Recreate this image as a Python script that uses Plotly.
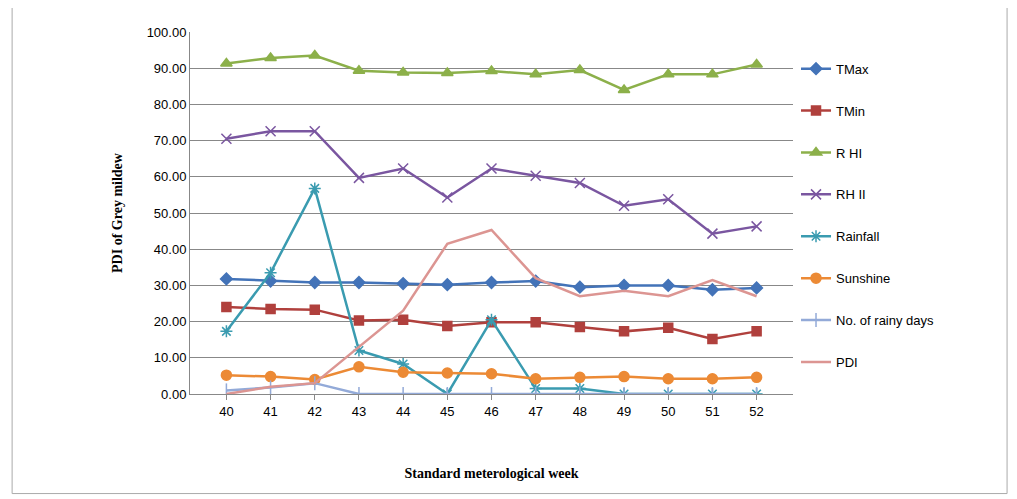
import plotly.graph_objects as go

weeks = ["40", "41", "42", "43", "44", "45", "46", "47", "48", "49", "50", "51", "52"]
tmax = [31.8, 31.2, 30.8, 30.8, 30.5, 30.2, 30.8, 31.2, 29.5, 30.0, 30.0, 28.8, 29.3]
tmin = [24.0, 23.5, 23.3, 20.3, 20.5, 18.8, 19.8, 19.8, 18.5, 17.3, 18.3, 15.2, 17.3]
rh1 = [91.3, 92.8, 93.5, 89.3, 88.8, 88.7, 89.2, 88.3, 89.5, 84.0, 88.3, 88.3, 91.0]
rh2 = [70.5, 72.6, 72.6, 59.7, 62.3, 54.3, 62.3, 60.3, 58.3, 52.0, 53.8, 44.3, 46.3]
rain = [17.3, 33.5, 56.8, 12.0, 8.3, 0.0, 20.5, 1.5, 1.5, 0.0, 0.0, 0.0, 0.0]
sun = [5.2, 4.8, 4.0, 7.5, 6.0, 5.8, 5.6, 4.2, 4.6, 4.8, 4.2, 4.2, 4.6]
rainy_days = [1.0, 1.8, 3.0, 0.0, 0.0, 0.0, 0.0, 0.0, 0.0, 0.0, 0.0, 0.0, 0.0]
pdi = [0.0, 2.0, 3.0, 13.0, 23.0, 41.5, 45.3, 32.0, 27.0, 28.5, 27.0, 31.5, 27.0]

series = [
    ("TMax", tmax, "#4373b8", "diamond", 9),
    ("TMin", tmin, "#b0403d", "square", 9),
    ("R HI", rh1, "#8cb04a", "triangle-up", 10),
    ("RH II", rh2, "#7a56a0", "x-thin-open", 10),
    ("Rainfall", rain, "#3a9bb0", "asterisk-open", 10),
    ("Sunshine", sun, "#ec8a35", "circle", 10),
    ("No. of rainy days", rainy_days, "#93aad8", "line-ns-open", 10),
    ("PDI", pdi, "#dc9592", None, 0),
]

fig = go.Figure()
for name, vals, col, sym, sz in series:
    if sym:
        fig.add_trace(go.Scatter(x=weeks, y=vals, name=name, mode="lines+markers",
                                 legendgroup=name,
                                 line=dict(color=col, width=2.5),
                                 marker=dict(symbol=sym, size=sz, color=col,
                                             line=dict(color=col, width=1.5))))
    else:
        fig.add_trace(go.Scatter(x=weeks, y=vals, name=name, mode="lines",
                                 legendgroup=name,
                                 line=dict(color=col, width=2.5)))

fig.update_layout(
    width=1017, height=499,
    paper_bgcolor="white", plot_bgcolor="white",
    margin=dict(l=182, r=232, t=24, b=113),
    font=dict(family="Liberation Sans", size=13, color="black"),
    legend=dict(x=1.005, y=0.94, yanchor="top", tracegroupgap=22, itemwidth=30,
                font=dict(size=13)),
    xaxis=dict(title=dict(text="<b>Standard meterological week</b>",
                          font=dict(family="Liberation Serif", size=14), standoff=50),
               showline=True, linecolor="#888", ticks="outside", ticklen=5,
               tickcolor="#888", showgrid=False),
    yaxis=dict(title=dict(text="<b>PDI of Grey mildew</b>",
                          font=dict(family="Liberation Serif", size=14), standoff=20),
               range=[0, 100], dtick=10, tickformat=".2f", showgrid=True,
               gridcolor="#888", showline=True, linecolor="#888", zeroline=False),
    shapes=[dict(type="rect", xref="paper", yref="paper", x0=-0.295, x1=1.355,
                 y0=-0.275, y1=1.07, line=dict(color="#aaa", width=1))],
)
fig.write_html("out.html")
